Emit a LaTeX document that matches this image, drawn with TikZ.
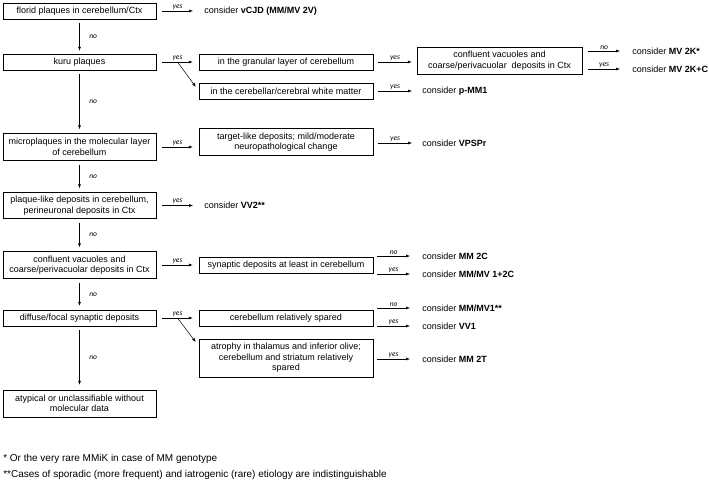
\documentclass[tikz,border=0pt]{standalone}
\usepackage{fontspec}
\setmainfont{Liberation Sans}
\newfontfamily\lblfont{Carlito}
\usetikzlibrary{arrows.meta}
\tikzset{
        box/.style={draw, align=center, inner sep=1pt, minimum height=16pt, font=\fontsize{9}{10.5}\selectfont},
        lbox/.style={box, minimum width=153pt},
        mbox/.style={box, minimum width=174pt},
        res/.style={anchor=west, inner sep=0pt, font=\fontsize{9}{10.5}\selectfont},
        note/.style={anchor=west, inner sep=0pt, font=\fontsize{10}{12}\selectfont},
        arr/.style={-{Latex[length=4pt,width=3pt]}, line width=0.5pt},
        lbl/.style={font=\lblfont\itshape\fontsize{7.5}{8.5}\selectfont, inner sep=1.5pt},
}
\begin{document}
\begin{tikzpicture}[x=1pt,y=-1pt,line width=0.5pt]
        \useasboundingbox (0,0) rectangle (709,482);
        \node[lbox] (florid) at (79.5,11) {florid plaques in cerebellum/Ctx};
        \node[lbox] (kuru) at (79.5,62) {kuru plaques};
        \node[lbox,minimum height=27pt] (micro) at (79.5,147) {microplaques in the molecular layer\\of cerebellum};
        \node[lbox,minimum height=26pt] (plaque) at (79.5,205.5) {plaque-like deposits in cerebellum,\\perineuronal deposits in Ctx};
        \node[lbox,minimum height=27pt] (confl) at (79.5,265) {confluent vacuoles and\\coarse/perivacuolar deposits in Ctx};
        \node[lbox] (diffuse) at (79.5,318) {diffuse/focal synaptic deposits};
        \node[lbox,minimum height=27pt] (atyp) at (79.5,403.5) {atypical or unclassifiable without\\molecular data};

        \node[mbox] (granular) at (286,62) {in the granular layer of cerebellum};
        \node[mbox] (white) at (286,91) {in the cerebellar/cerebral white matter};
        \node[mbox,minimum height=27pt] (target) at (286,142) {target-like deposits; mild/moderate\\neuropathological change};
        \node[mbox] (synapt) at (286,265) {synaptic deposits at least in cerebellum};
        \node[mbox] (spared) at (286,318) {cerebellum relatively spared};
        \node[mbox,minimum height=38pt] (atrophy) at (286,358) {atrophy in thalamus and inferior olive;\\cerebellum and striatum relatively\\spared};
        \node[box,minimum width=165pt,minimum height=27pt] (confr) at (499.5,60.5) {confluent vacuoles and\\coarse/perivacuolar\ \ deposits in Ctx};

        \node[res] (vcjd) at (204,11) {consider \textbf{vCJD (MM/MV 2V)}};
        \node[res] (mvk) at (632,51) {consider \textbf{MV 2K*}};
        \node[res] (mvkc) at (632,69) {consider \textbf{MV 2K+C}};
        \node[res] (pmm) at (422,91) {consider \textbf{p-MM1}};
        \node[res] (vpspr) at (422,143) {consider \textbf{VPSPr}};
        \node[res] (vv2) at (204,205.5) {consider \textbf{VV2**}};
        \node[res] (mm2c) at (422,256) {consider \textbf{MM 2C}};
        \node[res] (mmmv) at (422,274) {consider \textbf{MM/MV 1+2C}};
        \node[res] (mmmv1) at (422,308) {consider \textbf{MM/MV1**}};
        \node[res] (vv1) at (422,326) {consider \textbf{VV1}};
        \node[res] (mm2t) at (422,359) {consider \textbf{MM 2T}};

        \node[note] (fn1) at (3,459) {* Or the very rare MMiK in case of MM genotype};
        \node[note] (fn2) at (3,475) {**Cases of sporadic (more frequent) and iatrogenic (rare) etiology are indistinguishable};

        \draw[arr,shorten <=4pt,shorten >=3pt] (florid) -- node[lbl,right=8pt] {no} (kuru);
        \draw[arr,shorten <=4pt,shorten >=4pt] (kuru) -- node[lbl,right=8pt] {no} (micro);
        \draw[arr,shorten <=4pt,shorten >=4pt] (micro) -- node[lbl,right=8pt] {no} (plaque);
        \draw[arr,shorten <=4pt,shorten >=4pt] (plaque) -- node[lbl,right=8pt] {no} (confl);
        \draw[arr,shorten <=4pt,shorten >=4pt] (confl) -- node[lbl,right=8pt] {no} (diffuse);
        \draw[arr,shorten <=4pt,shorten >=5pt] (diffuse) -- node[lbl,right=8pt] {no} (atyp);

        \draw[arr] ([xshift=6pt]florid.east) -- node[lbl,above] {yes} ([xshift=-11pt]vcjd.west);
        \draw[arr] ([xshift=6pt]kuru.east) -- coordinate (kfork) node[lbl,above] {yes} ([xshift=-6pt]granular.west);
        \draw[arr,shorten >=5pt] (kfork) -- (white.west);
        \draw[arr] ([xshift=5pt]granular.east) -- node[lbl,above] {yes} ([xshift=-5pt]granular.east -| confr.west);
        \draw[arr] ([xshift=6pt]confr.east |- mvk) -- node[lbl,above] {no} ([xshift=-12pt]mvk.west);
        \draw[arr] ([xshift=6pt]confr.east |- mvkc) -- node[lbl,above] {yes} ([xshift=-12pt]mvkc.west);
        \draw[arr] ([xshift=5pt]white.east) -- node[lbl,above] {yes} ([xshift=-10pt]pmm.west);
        \draw[arr] ([xshift=6pt]micro.east) -- node[lbl,above] {yes} ([xshift=-6pt]micro.east -| target.west);
        \draw[arr] ([xshift=5pt]target.east |- vpspr) -- node[lbl,above] {yes} ([xshift=-10pt]vpspr.west);
        \draw[arr] ([xshift=6pt]plaque.east) -- node[lbl,above] {yes} ([xshift=-11pt]vv2.west);
        \draw[arr] ([xshift=6pt]confl.east) -- node[lbl,above] {yes} ([xshift=-6pt]synapt.west);
        \draw[arr] ([xshift=4pt]synapt.east |- mm2c) -- node[lbl,above] {no} ([xshift=-12pt]mm2c.west);
        \draw[arr] ([xshift=4pt]synapt.east |- mmmv) -- node[lbl,above] {yes} ([xshift=-12pt]mmmv.west);
        \draw[arr] ([xshift=6pt]diffuse.east) -- coordinate (dfork) node[lbl,above] {yes} ([xshift=-6pt]spared.west);
        \draw[arr,shorten >=5pt] (dfork) -- ([yshift=12pt]atrophy.west);
        \draw[arr] ([xshift=4pt]spared.east |- mmmv1) -- node[lbl,above] {no} ([xshift=-12pt]mmmv1.west);
        \draw[arr] ([xshift=4pt]spared.east |- vv1) -- node[lbl,above] {yes} ([xshift=-12pt]vv1.west);
        \draw[arr] ([xshift=4pt]atrophy.east |- mm2t) -- node[lbl,above] {yes} ([xshift=-12pt]mm2t.west);
\end{tikzpicture}
\end{document}
